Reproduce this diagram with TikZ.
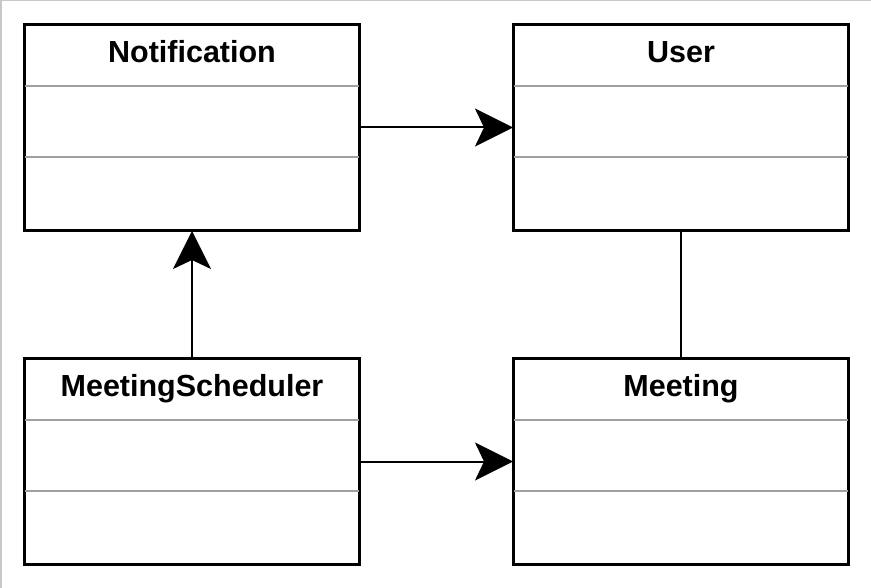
\documentclass[tikz,border=0pt]{standalone}
\usepackage{fontspec}
\setmainfont{Liberation Sans}
\usetikzlibrary{arrows.meta}
\definecolor{sepgray}{HTML}{A0A0A0}
\definecolor{framegray}{HTML}{C8C8C8}
\tikzset{
  classbox/.style={draw=black, line width=2pt, fill=white, minimum width=334pt, minimum height=205pt, inner sep=0pt, anchor=north west},
  sepline/.style={draw=sepgray, line width=2pt},
  title/.style={font=\bfseries\fontsize{30.5}{36}\selectfont, inner sep=0pt, anchor=base},
  conn/.style={line width=2pt, draw=black},
  arr/.style={conn, -{Stealth[length=38pt, width=38pt, inset=9pt]}},
}
\begin{document}
\begin{tikzpicture}[x=1pt, y=-1pt]
\useasboundingbox (0,0) rectangle (871,588);
\fill[white] (0,0) rectangle (871,588);
\draw[framegray, line width=1.5pt] (0.75,588) -- (0.75,0.75) -- (871,0.75);
% boxes
\node[classbox] (notif) at (24,24) {};
\node[classbox] (user) at (513,24) {};
\node[classbox] (sched) at (24,358) {};
\node[classbox] (meet) at (513,358) {};
% separators and titles
\foreach \b/\t in {notif/Notification, user/User, sched/MeetingScheduler, meet/Meeting}{
  \draw[sepline] ([xshift=1pt,yshift=-62pt]\b.north west) -- ([xshift=-1pt,yshift=-62pt]\b.north east);
  \draw[sepline] ([xshift=1pt,yshift=-133pt]\b.north west) -- ([xshift=-1pt,yshift=-133pt]\b.north east);
  \node[title] (\b-t) at ([yshift=-38.5pt]\b.north) {\t};
}
% redraw borders on top
\foreach \b in {notif,user,sched,meet}{
  \draw[line width=2pt] (\b.north west) rectangle (\b.south east);
}
% connectors
\draw[arr] (notif.east) -- (user.west);
\draw[arr] (sched.north) -- (notif.south);
\draw[arr] (sched.east) -- (meet.west);
\draw[conn] (user.south) -- (meet.north);
\end{tikzpicture}
\end{document}
